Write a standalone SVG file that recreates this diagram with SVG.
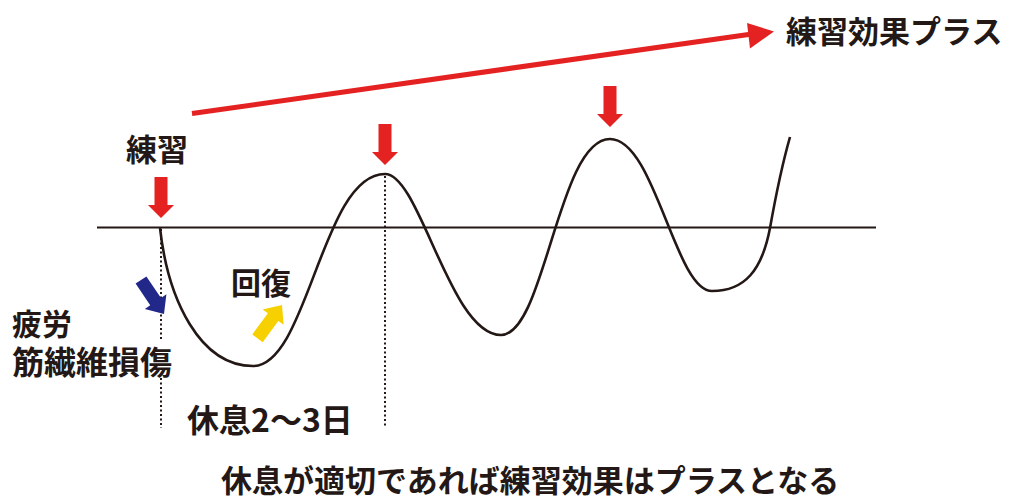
<svg xmlns="http://www.w3.org/2000/svg" width="1011" height="500" viewBox="0 0 1011 500">
<style>
.t{font-family:"Noto Sans CJK JP","Noto Sans",sans-serif;font-weight:bold;fill:#231815}
.dot{stroke:#231815;stroke-width:2;stroke-dasharray:2,2.5;fill:none}
.red{fill:#e52222}
</style>
<defs>
<path id="down" d="M-6.5,-41 H6.5 V-13 H13 L0,0 L-13,-13 H-6.5 Z"/>
</defs>
<rect width="1011" height="500" fill="#fff"/>
<g id="axis"><line x1="97" y1="227.5" x2="876" y2="227.5" stroke="#231815" stroke-width="2"/></g>
<g id="connectors">
<line class="dot" x1="161" y1="229" x2="161" y2="341"/>
<line class="dot" x1="161" y1="378" x2="161" y2="428"/>
<line class="dot" x1="385" y1="176" x2="385" y2="428"/>
<path d="M160,228 C168,300 200,366 253,366 C308,366 322,174 385,174 C420,174 450,335 501,335 C545,335 558,139 610,139 C655,139 675,291 712,291 C745,291 762,270 770,228 C775,200 782,165 790,137" fill="none" stroke="#231815" stroke-width="2.6"/>
<line x1="192" y1="113.5" x2="752" y2="34" stroke="#e52222" stroke-width="5"/>
<path class="red" d="M774,31.5 L747,23 L750,48.5 Z"/>
</g>
<g id="markers">
<use href="#down" class="red" x="161" y="218"/>
<use href="#down" class="red" x="385" y="165"/>
<use href="#down" class="red" x="610" y="127"/>
<path d="M146.4,276.4 L161,298 L166.4,294.3 L164,314 L144.8,308.9 L150.2,305.2 L135.6,283.6 Z" fill="#22288a"/>
<path d="M262.7,342.2 L278.3,321 L283.6,324.8 L282,305 L262.6,309.4 L267.9,313.2 L252.3,334.4 Z" fill="#f7d000"/>
</g>
<g id="labels">
<text class="t" x="786" y="43" font-size="31">練習効果プラス</text>
<text class="t" x="126" y="161" font-size="31">練習</text>
<text class="t" x="231" y="294" font-size="30">回復</text>
<text class="t" x="12" y="335" font-size="30">疲労</text>
<text class="t" x="12" y="374" font-size="32">筋繊維損傷</text>
<text class="t" x="187" y="432" font-size="32">休息2〜3日</text>
<text class="t" x="221" y="492" font-size="31">休息が適切であれば練習効果はプラスとなる</text>
</g>
</svg>
